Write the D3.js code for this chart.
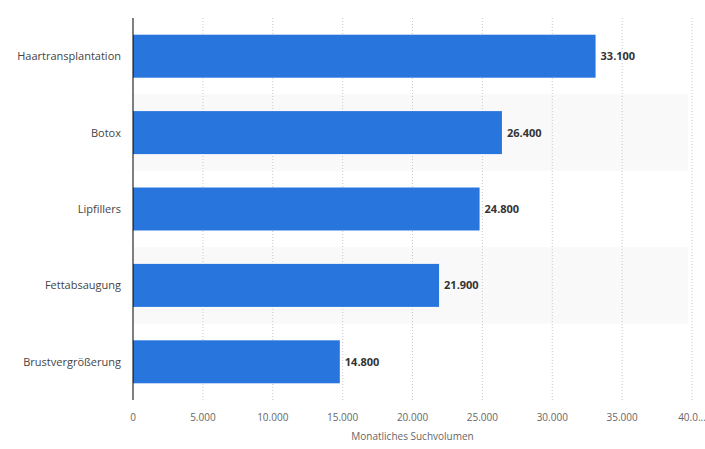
<!DOCTYPE html>
<html><head><meta charset="utf-8">
<script src="https://cdn.jsdelivr.net/npm/d3@7"></script>
<style>body{margin:0;background:#fff;font-family:"Open Sans",sans-serif}</style>
</head><body>
<script>
// chart data
categories = ["Haartransplantation", "Botox", "Lipfillers", "Fettabsaugung", "Brustvergrößerung"];
values = [33100, 26400, 24800, 21900, 14800];
ticks = [0, 5000, 10000, 15000, 20000, 25000, 30000, 35000, 40000];

W = 705; H = 449;
margin = {top: 18, right: 13, bottom: 49, left: 133};
svg = d3.select("body").append("svg").attr("width", W).attr("height", H);
x = d3.scaleLinear().domain([0, 40000]).range([margin.left, 692]);
y = d3.scaleBand().domain(categories).range([margin.top, H - margin.bottom]).paddingInner(0).paddingOuter(0);
fmt = d3.format(",");
de = function(v) { return fmt(v).replace(/,/g, "."); };

// alternating bands
svg.selectAll(".band")
    .data(categories.filter(function(d, i) { return i % 2 == 1; }))
  .enter().append("rect")
    .attr("x", margin.left).attr("width", 688 - margin.left)
    .attr("y", function(d) { return y(d); })
    .attr("height", y.bandwidth())
    .attr("fill", "#f9f9f9");

// grid
svg.selectAll(".grid")
    .data(ticks.slice(1))
  .enter().append("line")
    .attr("x1", function(d) { return x(d); }).attr("x2", function(d) { return x(d); })
    .attr("y1", margin.top).attr("y2", H - margin.bottom)
    .attr("stroke", "#c8c8c8").attr("stroke-dasharray", "1,2");

// bars
svg.selectAll(".bar")
    .data(values)
  .enter().append("rect")
    .attr("x", x(0))
    .attr("y", function(d, i) { return y(categories[i]) + (y.bandwidth() - 43) / 2; })
    .attr("width", function(d) { return x(d) - x(0); })
    .attr("height", 43)
    .attr("fill", "#2876dd");

svg.selectAll(".val")
    .data(values)
  .enter().append("text")
    .attr("x", function(d) { return x(d) + 5; })
    .attr("y", function(d, i) { return y(categories[i]) + y.bandwidth() / 2 + 4; })
    .attr("font-size", 11).attr("font-weight", "bold").attr("fill", "#333")
    .text(de);

// category labels
svg.selectAll(".cat")
    .data(categories)
  .enter().append("text")
    .attr("x", 121)
    .attr("y", function(d) { return y(d) + y.bandwidth() / 2 + 4; })
    .attr("text-anchor", "end").attr("font-size", 11).attr("fill", "#444")
    .text(function(d) { return d; });

// axis
svg.append("line")
    .attr("x1", x(0)).attr("x2", x(0)).attr("y1", margin.top).attr("y2", H - margin.bottom)
    .attr("stroke", "#000");
svg.selectAll(".tick")
    .data(ticks)
  .enter().append("text")
    .attr("x", function(d) { return x(d); })
    .attr("y", 421)
    .attr("text-anchor", "middle").attr("font-size", 10).attr("fill", "#666")
    .text(function(d) { return d == 40000 ? "40.0..." : de(d); });
svg.append("text")
    .attr("x", (x(0) + 692) / 2).attr("y", 440)
    .attr("text-anchor", "middle").attr("font-size", 10).attr("fill", "#666")
    .text("Monatliches Suchvolumen");
</script>
</body></html>
